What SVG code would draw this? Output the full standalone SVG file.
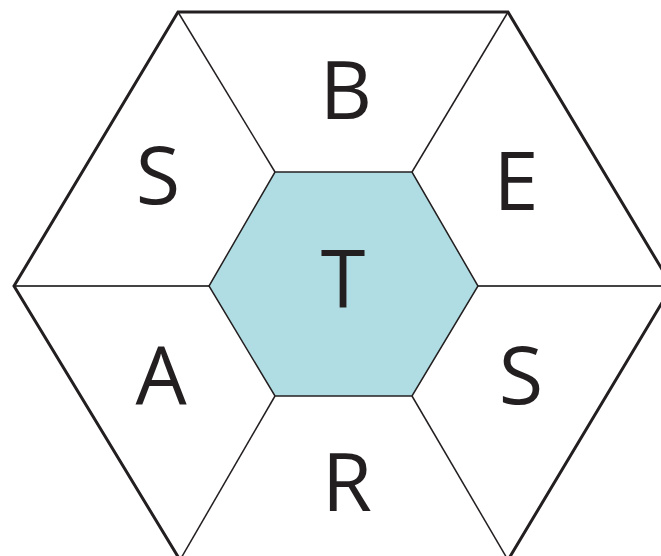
<svg xmlns="http://www.w3.org/2000/svg" width="661" height="556" viewBox="0 0 661 556">
<style>
.outer{fill:none;stroke:#231f20;stroke-width:3;stroke-linejoin:miter}
.spoke{stroke:#231f20;stroke-width:1.5;fill:none}
.hspoke{stroke:#444;stroke-width:2.2;fill:none}
.inner{fill:#b0dde3;stroke:#231f20;stroke-width:1.5;stroke-linejoin:miter}
.lbl{font-family:"Open Sans","Liberation Sans",sans-serif;font-size:81px;fill:#231f20;text-anchor:middle}
</style>
<rect width="661" height="556" fill="#fff"/>
<g id="connectors">
<line class="spoke" x1="275" y1="172" x2="178" y2="12"/>
<line class="spoke" x1="412" y1="172" x2="508" y2="12"/>
<line class="hspoke" x1="209" y1="286" x2="14" y2="286"/>
<line class="hspoke" x1="478" y1="286" x2="672" y2="286"/>
<line class="spoke" x1="275" y1="396" x2="180" y2="560"/>
<line class="spoke" x1="412" y1="396" x2="508" y2="560"/>
</g>
<g id="outer-hex">
<polygon class="outer" points="178,12 508,12 672,286 508,560 180,560 14,286"/>
</g>
<g id="center">
<polygon class="inner" points="275,172 412,172 478,286 412,396 275,396 209,286"/>
<text class="lbl" x="343" y="308">T</text>
</g>
<g id="top"><text class="lbl" x="346" y="119">B</text></g>
<g id="upper-left"><text class="lbl" x="158" y="204">S</text></g>
<g id="upper-right"><text class="lbl" x="516" y="210">E</text></g>
<g id="lower-left"><text class="lbl" x="161" y="404">A</text></g>
<g id="lower-right"><text class="lbl" x="521" y="404">S</text></g>
<g id="bottom"><text class="lbl" x="347" y="511">R</text></g>
</svg>
